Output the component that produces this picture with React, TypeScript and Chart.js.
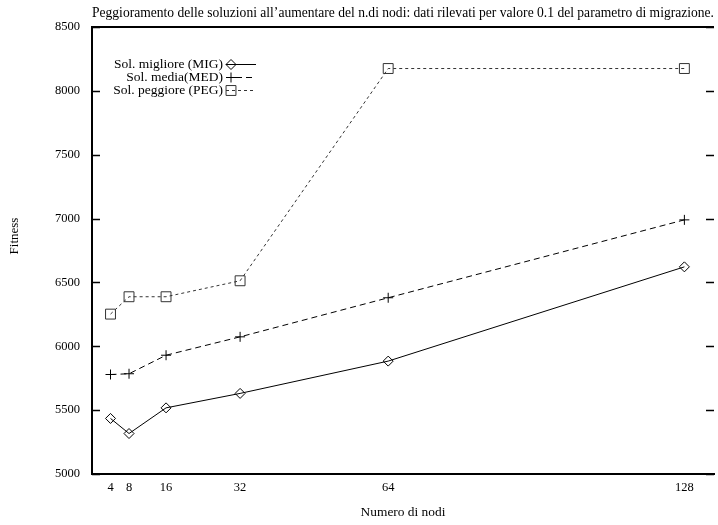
import React, { useEffect, useRef } from 'react';
import { Chart, registerables } from 'chart.js';

Chart.register(...registerables);

// ---- data ----
const nodes = [4, 8, 16, 32, 64, 128];
const migValues = [5435, 5317, 5518, 5631, 5884, 6622];
const medValues = [5779, 5785, 5930, 6074, 6380, 6990];
const pegValues = [6252, 6388, 6388, 6513, 8175, 8175];
const yTickValues = [5000, 5500, 6000, 6500, 7000, 7500, 8000, 8500];
const seriesLabels = ['Sol. migliore (MIG)', 'Sol. media(MED)', 'Sol. peggiore (PEG)'];
const chartTitle =
  'Peggioramento delle soluzioni all\u2019aumentare del n.di nodi: dati rilevati per valore 0.1 del parametro di migrazione.';
const xTitle = 'Numero di nodi';
const yTitle = 'Fitness';

const FONT = '"Liberation Serif", "Times New Roman", serif';

type Style = { color: string; dash: number[]; point: string; radius: number };
const styles: Style[] = [
  { color: '#000', dash: [], point: 'rectRot', radius: 5 },
  { color: '#000', dash: [6, 4], point: 'cross', radius: 5 },
  { color: '#333', dash: [3, 3], point: 'rect', radius: 7 },
];

function drawMarker(ctx: CanvasRenderingContext2D, kind: string, x: number, y: number, r: number) {
  ctx.beginPath();
  if (kind === 'rectRot') {
    ctx.moveTo(x - r, y);
    ctx.lineTo(x, y - r);
    ctx.lineTo(x + r, y);
    ctx.lineTo(x, y + r);
    ctx.closePath();
  } else if (kind === 'cross') {
    ctx.moveTo(x - r, y);
    ctx.lineTo(x + r, y);
    ctx.moveTo(x, y - r);
    ctx.lineTo(x, y + r);
  } else {
    const s = Math.SQRT1_2 * r;
    ctx.rect(x - s, y - s, 2 * s, 2 * s);
  }
  ctx.stroke();
}

const gnuplotPlugin = {
  id: 'gnuplotFrame',
  afterDraw(chart: any) {
    const { ctx, chartArea, scales } = chart;
    const { left, right, top } = chartArea;
    ctx.save();
    // top border
    ctx.strokeStyle = '#000';
    ctx.lineWidth = 2;
    ctx.beginPath();
    ctx.moveTo(left - 1, top);
    ctx.lineTo(right, top);
    ctx.stroke();
    // inward y ticks (left and mirrored right)
    ctx.lineWidth = 1.5;
    scales.y.ticks.forEach((t: any) => {
      const py = Math.round(scales.y.getPixelForValue(t.value)) + 0.5;
      ctx.beginPath();
      ctx.moveTo(left, py);
      ctx.lineTo(left + 8, py);
      ctx.moveTo(right, py);
      ctx.lineTo(right - 8, py);
      ctx.stroke();
    });
    // y title
    ctx.fillStyle = '#000';
    ctx.font = `13px ${FONT}`;
    ctx.textAlign = 'center';
    ctx.textBaseline = 'middle';
    ctx.save();
    ctx.translate(15, 236);
    ctx.rotate(-Math.PI / 2);
    ctx.fillText(yTitle, 0, 0);
    ctx.restore();
    // legend (gnuplot key style)
    ctx.font = `13.5px ${FONT}`;
    const rows = [64.5, 77.5, 90.5];
    seriesLabels.forEach((label, i) => {
      const st = styles[i];
      const y = rows[i];
      ctx.fillStyle = '#000';
      ctx.textAlign = 'right';
      ctx.textBaseline = 'middle';
      ctx.fillText(label, 223, y);
      ctx.strokeStyle = st.color;
      ctx.lineWidth = 1;
      ctx.setLineDash(st.dash);
      ctx.beginPath();
      ctx.moveTo(226, y);
      ctx.lineTo(256, y);
      ctx.stroke();
      ctx.setLineDash([]);
      drawMarker(ctx, st.point, 231, y, st.point === 'rect' ? 7 : 5);
    });
    ctx.restore();
  },
};

export default function App() {
  const canvasRef = useRef<HTMLCanvasElement | null>(null);

  useEffect(() => {
    const canvas = canvasRef.current;
    if (!canvas) return;
    const seriesValues = [migValues, medValues, pegValues];
    const chart = new Chart(canvas, {
      type: 'line',
      data: {
        datasets: seriesValues.map((vals, i) => ({
          label: seriesLabels[i],
          data: nodes.map((n, j) => ({ x: n, y: vals[j] })),
          borderColor: styles[i].color,
          borderWidth: 1,
          borderDash: styles[i].dash,
          fill: false,
          tension: 0,
          pointStyle: styles[i].point as any,
          pointRadius: styles[i].radius,
          pointBorderWidth: 1,
          pointBorderColor: styles[i].color,
          pointBackgroundColor: 'rgba(0,0,0,0)',
        })),
      },
      options: {
        animation: false,
        responsive: false,
        devicePixelRatio: 1,
        layout: { padding: 0 },
        plugins: {
          legend: { display: false },
          tooltip: { enabled: false },
          title: {
            display: true,
            text: chartTitle,
            fullSize: false,
            color: '#000',
            font: { family: FONT, size: 13.6, weight: 'normal', lineHeight: 1.2 },
            padding: { top: 5, bottom: 5.7 },
          },
        },
        scales: {
          x: {
            type: 'linear',
            min: 0,
            max: 134.4,
            afterBuildTicks: (scale: any) => {
              scale.ticks = nodes.map((v) => ({ value: v }));
            },
            afterFit: (scale: any) => {
              scale.height = 51;
            },
            ticks: {
              color: '#000',
              font: { family: FONT, size: 12.5 },
              padding: -2,
              maxRotation: 0,
              autoSkip: false,
              callback: (v: any) => String(v),
            },
            grid: { display: false },
            border: { display: true, color: '#000', width: 2 },
            title: {
              display: true,
              text: xTitle,
              color: '#000',
              font: { family: FONT, size: 13.4 },
              padding: { top: 0, bottom: 4 },
            },
          },
          y: {
            type: 'linear',
            min: 5000,
            max: 8500,
            afterBuildTicks: (scale: any) => {
              scale.ticks = yTickValues.map((v) => ({ value: v }));
            },
            afterFit: (scale: any) => {
              scale.width = 92;
            },
            ticks: {
              color: '#000',
              font: { family: FONT, size: 12.5 },
              padding: 4,
              callback: (v: any) => String(v),
            },
            grid: { display: false },
            border: { display: true, color: '#000', width: 2 },
          },
        },
      },
      plugins: [gnuplotPlugin],
    });
    return () => chart.destroy();
  }, []);

  return (
    <div
      style={{
        position: 'absolute',
        left: 0,
        top: 0,
        width: 718,
        height: 525,
        overflow: 'hidden',
        background: '#fff',
      }}
    >
      <canvas ref={canvasRef} width={722} height={525} style={{ width: 722, height: 525, display: 'block' }} />
    </div>
  );
}
